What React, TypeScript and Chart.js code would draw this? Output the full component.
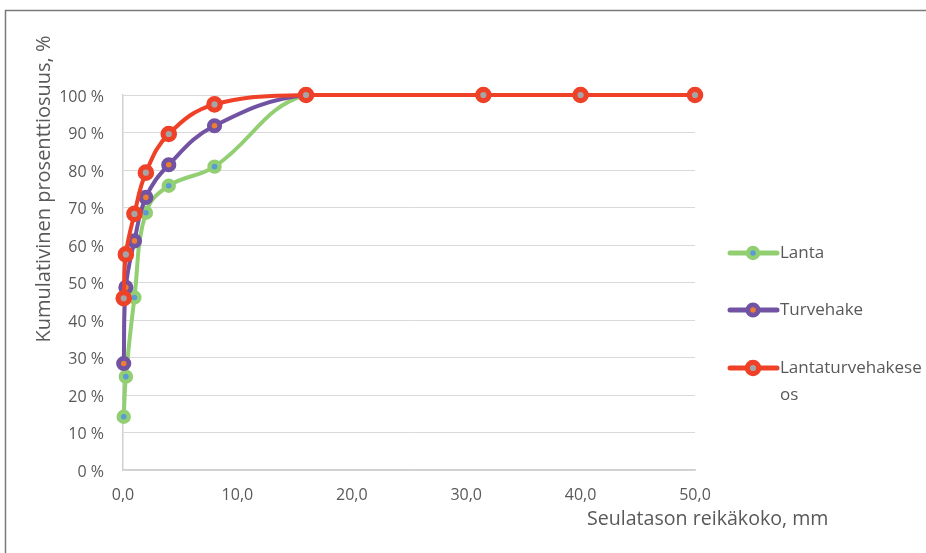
import React, { useEffect, useRef } from "react";
import { Chart, registerables } from "chart.js";

Chart.register(...registerables);

// Sieve aperture sizes (mm) and cumulative passing share (%)
const sieveSizes = [0.063, 0.25, 1, 2, 4, 8, 16, 31.5, 40, 50];
const lanta = [14.2, 24.9, 46.0, 68.6, 75.8, 80.9, 100, 100, 100, 100];
const turvehake = [28.4, 48.7, 61.1, 72.7, 81.4, 91.8, 100, 100, 100, 100];
const lantaturvehakeseos = [45.8, 57.5, 68.3, 79.3, 89.6, 97.5, 100, 100, 100, 100];

const seriesNames = ["Lanta", "Turvehake", "Lantaturvehakeseos"];
const seriesValues = [lanta, turvehake, lantaturvehakeseos];
const lineColors = ["#92CF72", "#7152A3", "#EE4128"];
const markerFills = ["#5B9BD5", "#ED7D31", "#A5A5A5"];
const markerRadius = [5, 5.2, 5.7];
const markerBorder = [4.4, 4.8, 5.2];

const xTicks = [0, 10, 20, 30, 40, 50];
const yTicks = [0, 10, 20, 30, 40, 50, 60, 70, 80, 90, 100];

const yTitle = "Kumulativinen prosenttiosuus, %";
const xTitle = "Seulatason reikäkoko, mm";

const FONT = "'Open Sans', sans-serif";
const TEXT = "#595959";

const decorations = {
  id: "decorations",
  afterDraw(chart: any) {
    const ctx = chart.ctx as CanvasRenderingContext2D;
    ctx.save();

    // outer frame (left and top edges)
    ctx.strokeStyle = "#7a7a7a";
    ctx.lineWidth = 1.5;
    ctx.beginPath();
    ctx.moveTo(5.5, 553);
    ctx.lineTo(5.5, 10.5);
    ctx.lineTo(926, 10.5);
    ctx.stroke();

    // y axis title
    ctx.fillStyle = TEXT;
    ctx.font = `20px ${FONT}`;
    ctx.save();
    ctx.translate(50, 189);
    ctx.rotate(-Math.PI / 2);
    ctx.textAlign = "center";
    ctx.textBaseline = "alphabetic";
    ctx.fillText(yTitle, 0, 0);
    ctx.restore();

    // x axis title
    ctx.font = `19.6px ${FONT}`;
    ctx.textAlign = "left";
    ctx.textBaseline = "alphabetic";
    ctx.fillText(xTitle, 587, 525);

    // legend
    const legendX = 730;
    const legendY = [253, 310, 368];
    const textX = 780;
    const maxW = 926 - textX;
    ctx.font = `17px ${FONT}`;
    chart.data.datasets.forEach((ds: any, i: number) => {
      const y = legendY[i];
      ctx.strokeStyle = ds.borderColor;
      ctx.lineWidth = 5;
      ctx.lineCap = "round";
      ctx.beginPath();
      ctx.moveTo(legendX, y);
      ctx.lineTo(legendX + 47, y);
      ctx.stroke();
      ctx.beginPath();
      ctx.arc(legendX + 23, y, ds.pointRadius, 0, Math.PI * 2);
      ctx.fillStyle = ds.pointBackgroundColor;
      ctx.fill();
      ctx.lineWidth = ds.pointBorderWidth;
      ctx.strokeStyle = ds.pointBorderColor;
      ctx.stroke();

      // wrap label to available width
      const lines: string[] = [];
      let cur = "";
      for (const ch of ds.label as string) {
        if (ctx.measureText(cur + ch).width > maxW && cur) {
          lines.push(cur);
          cur = ch;
        } else cur += ch;
      }
      if (cur) lines.push(cur);
      ctx.fillStyle = TEXT;
      ctx.textAlign = "left";
      ctx.textBaseline = "middle";
      lines.forEach((ln, k) => ctx.fillText(ln, textX, y + k * 27));
    });

    ctx.restore();
  },
};

export default function App() {
  const canvasRef = useRef<HTMLCanvasElement | null>(null);

  useEffect(() => {
    if (!canvasRef.current) return;
    const datasets = seriesNames.map((name, i) => ({
      label: name,
      data: sieveSizes.map((x, j) => ({ x, y: seriesValues[i][j] })),
      borderColor: lineColors[i],
      backgroundColor: lineColors[i],
      borderWidth: 4,
      tension: 0.4,
      pointRadius: markerRadius[i],
      pointBorderWidth: markerBorder[i],
      pointBackgroundColor: markerFills[i],
      pointBorderColor: lineColors[i],
      clip: false as any,
      order: 2 - i,
    }));

    const chart = new Chart(canvasRef.current, {
      type: "line",
      data: { datasets },
      plugins: [decorations],
      options: {
        animation: false,
        responsive: false,
        layout: { padding: { top: 95, right: 231, left: 0, bottom: 0 } },
        plugins: {
          legend: { display: false },
          tooltip: { enabled: false },
        },
        scales: {
          x: {
            type: "linear",
            min: 0,
            max: 50,
            afterFit: (s: any) => {
              s.height = 83;
            },
            afterBuildTicks: (s: any) => {
              s.ticks = xTicks.map((v) => ({ value: v }));
            },
            grid: { display: false, drawTicks: false },
            border: { display: true, color: "#D0D0D0", width: 1.5 },
            ticks: {
              padding: 16,
              color: TEXT,
              font: { family: FONT, size: 16 },
              callback: (v: any) => Number(v).toFixed(1).replace(".", ","),
            },
          },
          y: {
            type: "linear",
            min: 0,
            max: 100,
            afterFit: (s: any) => {
              s.width = 123;
            },
            afterBuildTicks: (s: any) => {
              s.ticks = yTicks.map((v) => ({ value: v }));
            },
            grid: { color: "#D9D9D9", lineWidth: 1, drawTicks: false },
            border: { display: true, color: "#D0D0D0", width: 1.5 },
            ticks: {
              padding: 19,
              labelOffset: 2,
              color: TEXT,
              font: { family: FONT, size: 16 },
              callback: (v: any) => `${v} %`,
            },
          },
        },
      },
    });
    return () => chart.destroy();
  }, []);

  return (
    <div style={{ position: "fixed", left: 0, top: 0, width: 926, height: 553, background: "#fff" }}>
      <canvas ref={canvasRef} width={926} height={553} />
    </div>
  );
}
